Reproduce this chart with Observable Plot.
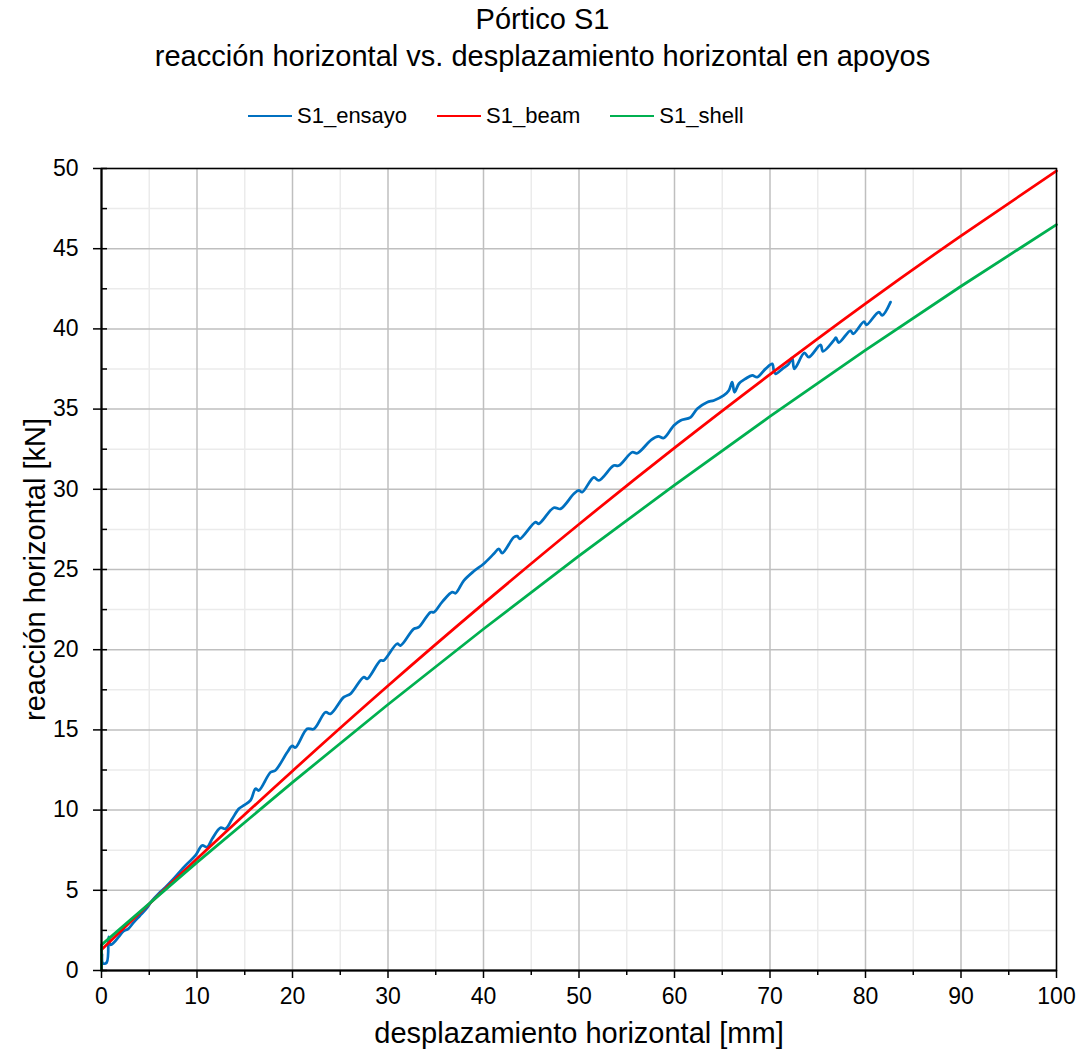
<!DOCTYPE html>
<html>
<head>
<meta charset="utf-8">
<script src="https://cdn.jsdelivr.net/npm/d3@7"></script>
<script src="https://cdn.jsdelivr.net/npm/@observablehq/plot@0.6"></script>
<style>
  body { margin: 0; background: #fff; font-family: "Liberation Sans", Arial, sans-serif; color: #000; }
  #wrap { position: relative; width: 1085px; height: 1062px; overflow: hidden; }
  .title { position: absolute; left: 0; width: 1085px; text-align: center; font-size: 29px; line-height: 1; white-space: nowrap; }
  #legend { position: absolute; top: 105px; left: 248px; display: flex; align-items: center; font-size: 22px; line-height: 22px; white-space: nowrap; }
  .item { display: flex; align-items: center; margin-right: 30px; }
  .swatch { width: 44px; height: 2.5px; margin-right: 5px; }
  #chart { position: absolute; top: 140px; left: 0; }
</style>
</head>
<body>
<div id="wrap">
  <div class="title" style="top:5px">Pórtico S1</div>
  <div class="title" style="top:42px">reacción horizontal vs. desplazamiento horizontal en apoyos</div>
  <div id="legend"></div>
  <div id="chart"></div>
</div>
<script>
// Series names and colours
const seriesNames = ["S1_ensayo", "S1_beam", "S1_shell"];
const seriesColors = ["#0070C0", "#FF0000", "#00B050"];

// Axis ticks
const xTicks = [0, 10, 20, 30, 40, 50, 60, 70, 80, 90, 100];
const xMinor = [5, 15, 25, 35, 45, 55, 65, 75, 85, 95];
const yTicks = [0, 5, 10, 15, 20, 25, 30, 35, 40, 45, 50];
const yMinor = [2.5, 7.5, 12.5, 17.5, 22.5, 27.5, 32.5, 37.5, 42.5, 47.5];

// Test record: horizontal displacement [mm] and horizontal reaction [kN]
const ensayoDisp = [0.05, 0.15, 0.55, 0.75, 0.95, 1.3, 1.8, 2.3, 2.8, 3.3, 4.0, 4.7, 5.3, 6.0, 6.7, 7.6, 8.8, 9.84, 10.54, 11.07, 11.59, 12.46, 12.98, 13.69, 14.38, 14.9, 15.6, 16.13, 16.47, 17.7, 18.2, 19.45, 19.97, 20.3, 21.54, 22.23, 23.46, 23.98, 25.37, 26.07, 27.47, 27.82, 29.21, 29.56, 30.96, 31.31, 32.7, 33.22, 34.45, 34.8, 35.7, 36.72, 37.07, 37.94, 38.98, 40.03, 41.08, 41.6, 41.96, 43.17, 43.53, 43.8, 45.45, 45.79, 47.36, 48.06, 49.46, 49.98, 50.33, 51.55, 52.07, 53.64, 54.17, 55.57, 56.1, 57.6, 58.3, 58.88, 59.93, 60.63, 61.68, 62.38, 63.42, 64.12, 65.16, 65.69, 66.04, 66.28, 66.74, 67.43, 68.14, 68.66, 69.53, 70.23, 70.4, 70.58, 71.3, 71.97, 72.32, 72.55, 73.6, 74.06, 75.29, 75.55, 76.68, 76.9, 77.2, 78.43, 78.7, 79.85, 80.1, 81.39, 81.75, 82.62];
const ensayoForce = [1.0, 0.45, 0.5, 2.1, 1.6, 1.75, 2.1, 2.45, 2.6, 2.95, 3.4, 3.85, 4.35, 4.8, 5.19, 5.75, 6.55, 7.17, 7.79, 7.69, 8.21, 8.9, 8.83, 9.46, 10.08, 10.29, 10.6, 11.33, 11.22, 12.36, 12.47, 13.61, 14.0, 13.9, 15.07, 15.05, 16.1, 16.0, 17.04, 17.25, 18.29, 18.18, 19.33, 19.33, 20.37, 20.26, 21.3, 21.4, 22.34, 22.34, 23.0, 23.59, 23.52, 24.31, 24.89, 25.36, 25.98, 26.29, 26.02, 27.01, 27.08, 26.91, 27.95, 27.85, 28.85, 28.78, 29.72, 29.93, 29.82, 30.75, 30.55, 31.48, 31.48, 32.31, 32.25, 33.1, 33.3, 33.2, 33.98, 34.29, 34.49, 35.02, 35.43, 35.54, 35.85, 36.16, 36.68, 36.05, 36.58, 36.89, 37.1, 36.99, 37.51, 37.82, 37.4, 37.2, 37.51, 37.82, 38.2, 37.51, 38.5, 38.24, 39.0, 38.6, 39.28, 39.45, 39.15, 39.9, 39.69, 40.45, 40.25, 41.05, 40.84, 41.67];

// Beam model
const beamDisp = [0, 10, 20, 30, 40, 50, 60, 70, 80, 90, 100];
const beamForce = [1.3, 6.96, 12.44, 17.75, 22.87, 27.82, 32.58, 37.16, 41.58, 45.8, 49.85];

// Shell model (starts with a vertical step at the origin)
const shellDisp = [0, 0, 10, 20, 30, 40, 50, 60, 70, 80, 90, 100];
const shellForce = [0, 1.6, 6.74, 11.73, 16.58, 21.29, 25.85, 30.26, 34.54, 38.67, 42.66, 46.5];

const toRows = (xs, ys) => xs.map((x, i) => ({disp: x, force: ys[i]}));
const ensayo = toRows(ensayoDisp, ensayoForce);
const beam = toRows(beamDisp, beamForce);
const shell = toRows(shellDisp, shellForce);

// Legend
const legend = document.getElementById("legend");
seriesNames.forEach((name, i) => {
  const item = document.createElement("div");
  item.className = "item";
  const sw = document.createElement("span");
  sw.className = "swatch";
  sw.style.background = seriesColors[i];
  const label = document.createElement("span");
  label.textContent = name;
  item.append(sw, label);
  legend.append(item);
});

const fontSize = 23;
const titleSize = 29;
const blank = () => "";

const chart = Plot.plot({
  width: 1085,
  height: 922,
  marginLeft: 101,
  marginRight: 29,
  marginTop: 28,
  marginBottom: 92,
  style: {fontFamily: "Liberation Sans, Arial, sans-serif", fontSize: fontSize + "px", background: "white", color: "black"},
  x: {domain: [0, 100], label: null},
  y: {domain: [0, 50], label: null},
  marks: [
    // grid
    Plot.gridX(xMinor, {stroke: "#ebebeb", strokeOpacity: 1, strokeWidth: 1.5}),
    Plot.gridY(yMinor, {stroke: "#ebebeb", strokeOpacity: 1, strokeWidth: 1.5}),
    Plot.gridX(xTicks, {stroke: "#bfbfbf", strokeOpacity: 1, strokeWidth: 1.5}),
    Plot.gridY(yTicks, {stroke: "#bfbfbf", strokeOpacity: 1, strokeWidth: 1.5}),

    // series
    Plot.line(ensayo, {x: "disp", y: "force", stroke: seriesColors[0], strokeWidth: 2.75, curve: "catmull-rom"}),
    Plot.line(beam, {x: "disp", y: "force", stroke: seriesColors[1], strokeWidth: 2.75, curve: "natural"}),
    Plot.line(shell, {x: "disp", y: "force", stroke: seriesColors[2], strokeWidth: 2.75, curve: "linear"}),

    // frame and axis lines
    Plot.frame({stroke: "black", strokeWidth: 1.5}),
    Plot.ruleX([0], {stroke: "black", strokeWidth: 2}),
    Plot.ruleY([0], {stroke: "black", strokeWidth: 2}),

    // tick marks
    Plot.axisX({ticks: xTicks, tickSize: 8, tickFormat: blank, label: null, strokeWidth: 1.5}),
    Plot.axisX({ticks: xMinor, tickSize: 5, tickFormat: blank, label: null, strokeWidth: 1.5}),
    Plot.axisY({ticks: yTicks, tickSize: 8, tickFormat: blank, label: null, strokeWidth: 1.5}),
    Plot.axisY({ticks: yTicks, tickSize: 6, dx: 6, tickFormat: blank, label: null, strokeWidth: 1.5}),
    Plot.axisY({ticks: yMinor, tickSize: 6, dx: 6, tickFormat: blank, label: null, strokeWidth: 1.5}),

    // tick labels
    Plot.axisX({ticks: xTicks, tickSize: 0, tickPadding: 17, fontSize, label: null}),
    Plot.axisY({ticks: yTicks, tickSize: 0, tickPadding: 23, fontSize, label: null}),

    // axis titles
    Plot.text(["desplazamiento horizontal [mm]"], {text: d => d, frameAnchor: "bottom", dy: 72, fontSize: titleSize, textAnchor: "middle"}),
    Plot.text(["reacción horizontal [kN]"], {text: d => d, frameAnchor: "left", dx: -66, rotate: -90, fontSize: titleSize, textAnchor: "middle"})
  ]
});
document.getElementById("chart").append(chart);
</script>
</body>
</html>
